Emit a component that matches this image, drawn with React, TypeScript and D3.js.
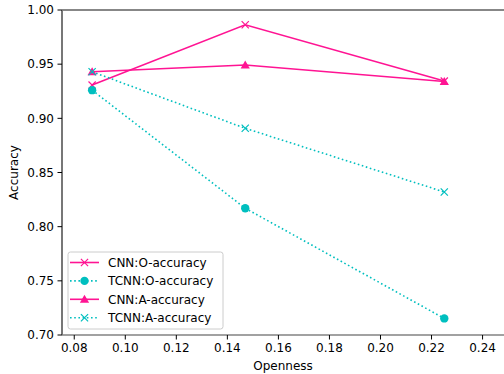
import React from "react";
import * as d3 from "d3";

// values
const openness = [0.087, 0.147, 0.225];
const cnnO = [0.9307, 0.9864, 0.9344];
const tcnnO = [0.926, 0.817, 0.7153];
const cnnA = [0.943, 0.9492, 0.934];
const tcnnA = [0.943, 0.8908, 0.832];
const xTicks = [0.08, 0.1, 0.12, 0.14, 0.16, 0.18, 0.2, 0.22, 0.24];
const yTicks = [0.7, 0.75, 0.8, 0.85, 0.9, 0.95, 1.0];

const PINK = "#ff1493";
const CYAN = "#00bfbf";

const series = [
  { name: "CNN:O-accuracy", values: cnnO, color: PINK, dotted: false, marker: "x" },
  { name: "TCNN:O-accuracy", values: tcnnO, color: CYAN, dotted: true, marker: "o" },
  { name: "CNN:A-accuracy", values: cnnA, color: PINK, dotted: false, marker: "^" },
  { name: "TCNN:A-accuracy", values: tcnnA, color: CYAN, dotted: true, marker: "x" },
];

const W = 504;
const H = 374;
const margin = { top: 10, right: 0, bottom: 39, left: 62 };

function Marker({ kind, x, y, color }: { kind: string; x: number; y: number; color: string }) {
  if (kind === "o") return <circle cx={x} cy={y} r={4.2} fill={color} />;
  if (kind === "^") {
    const s = 4.6;
    return (
      <path
        d={`M${x},${y - s} L${x + s},${y + s * 0.75} L${x - s},${y + s * 0.75} Z`}
        fill={color}
      />
    );
  }
  const s = 3.6;
  return (
    <path
      d={`M${x - s},${y - s} L${x + s},${y + s} M${x - s},${y + s} L${x + s},${y - s}`}
      stroke={color}
      strokeWidth={1.2}
      fill="none"
    />
  );
}

export default function App() {
  const x = d3.scaleLinear().domain([0.0752, 0.2484]).range([margin.left, W - margin.right]);
  const y = d3.scaleLinear().domain([0.7, 1.0]).range([H - margin.bottom, margin.top]);
  const font = "DejaVu Sans, sans-serif";

  const line = d3
    .line<number>()
    .x((_, i) => x(openness[i]))
    .y((d) => y(d));

  const x0 = margin.left;
  const x1 = W - margin.right;
  const y0 = H - margin.bottom;
  const y1 = margin.top;

  // legend
  const lg = { x: 68, y: 252, w: 155, h: 77, row: 18.4 };

  return (
    <svg
      width={W}
      height={H}
      style={{ position: "absolute", left: 0, top: 0, background: "#fff" }}
      fontFamily={font}
    >
      {series.map((s) => (
        <g key={s.name}>
          <path
            d={line(s.values) || ""}
            fill="none"
            stroke={s.color}
            strokeWidth={1.6}
            strokeDasharray={s.dotted ? "1.6,2.6" : undefined}
          />
          {s.values.map((v, i) => (
            <Marker key={i} kind={s.marker} x={x(openness[i])} y={y(v)} color={s.color} />
          ))}
        </g>
      ))}

      {/* spines (the right one falls outside the picture) */}
      <line x1={x0} x2={x1} y1={y1} y2={y1} stroke="#111" strokeWidth={1.2} />
      <line x1={x0} x2={x1} y1={y0} y2={y0} stroke="#444" strokeWidth={1.2} />
      <line x1={x0} x2={x0} y1={y1} y2={y0} stroke="#777" strokeWidth={2} />

      {/* x axis */}
      {xTicks.map((t) => (
        <g key={t} transform={`translate(${x(t)},${y0})`}>
          <line y1={0} y2={4.5} stroke="#000" strokeWidth={1} />
          <text y={17} textAnchor="middle" fontSize={12} fill="#000">
            {t.toFixed(2)}
          </text>
        </g>
      ))}
      <text x={(x0 + x1) / 2} y={370} textAnchor="middle" fontSize={12} fill="#000">
        Openness
      </text>

      {/* y axis */}
      {yTicks.map((t) => (
        <g key={t} transform={`translate(${x0},${y(t)})`}>
          <line x1={0} x2={-4.5} stroke="#000" strokeWidth={1} />
          <text x={-8} dy="0.35em" textAnchor="end" fontSize={12} fill="#000">
            {t.toFixed(2)}
          </text>
        </g>
      ))}
      <text
        transform={`translate(18,${(y0 + y1) / 2}) rotate(-90)`}
        textAnchor="middle"
        fontSize={12}
        fill="#000"
      >
        Accuracy
      </text>

      {/* legend */}
      <rect
        x={lg.x}
        y={lg.y}
        width={lg.w}
        height={lg.h}
        rx={2.5}
        fill="#fff"
        fillOpacity={0.8}
        stroke="#ccc"
        strokeWidth={1}
      />
      {series.map((s, i) => {
        const cy = lg.y + 10.5 + i * lg.row;
        return (
          <g key={s.name}>
            <line
              x1={70}
              x2={99}
              y1={cy}
              y2={cy}
              stroke={s.color}
              strokeWidth={1.6}
              strokeDasharray={s.dotted ? "1.6,2.6" : undefined}
            />
            <Marker kind={s.marker} x={84.5} y={cy} color={s.color} />
            <text x={108} y={cy} dy="0.35em" fontSize={12} fill="#000">
              {s.name}
            </text>
          </g>
        );
      })}
    </svg>
  );
}
